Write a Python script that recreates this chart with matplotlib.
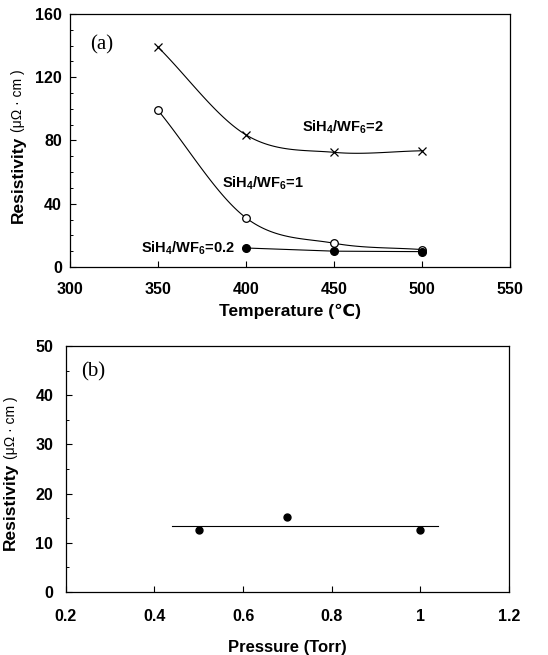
import numpy as np
import matplotlib.pyplot as plt
from matplotlib.ticker import MultipleLocator

plt.rcParams['font.family'] = ['Liberation Sans', 'DejaVu Sans']
plt.rcParams['mathtext.fontset'] = 'custom'
plt.rcParams['mathtext.rm'] = 'Liberation Sans:bold'
plt.rcParams['mathtext.default'] = 'rm'

# (a) resistivity vs deposition temperature
temp_x2 = [350, 400, 450, 500]
rho_x2 = [139, 83.5, 72.5, 73.5]          # SiH4/WF6 = 2
temp_x1 = [350, 400, 450, 500]
rho_x1 = [99, 31, 15, 11]                 # SiH4/WF6 = 1
temp_x02 = [400, 450, 500]
rho_x02 = [12, 10, 9.7]                   # SiH4/WF6 = 0.2

# (b) resistivity vs pressure
pressure = [0.5, 0.7, 1.0]
rho_p = [12.5, 15.3, 12.5]
fit_p = [0.44, 1.04]
fit_rho = [13.5, 13.5]
p_ticks = [0.2, 0.4, 0.6, 0.8, 1.0, 1.2]
p_ticklabels = ['0.2', '0.4', '0.6', '0.8', '1', '1.2']


def smooth(x, y, n=40):
    # Catmull-Rom curve through the points, like a spreadsheet "smoothed line"
    x = np.asarray(x, float)
    y = np.asarray(y, float)
    px = np.concatenate([[2 * x[0] - x[1]], x, [2 * x[-1] - x[-2]]])
    py = np.concatenate([[2 * y[0] - y[1]], y, [2 * y[-1] - y[-2]]])
    xs, ys = [], []
    t = np.linspace(0, 1, n)
    for i in range(1, len(px) - 2):
        for arr, out in ((px, xs), (py, ys)):
            p0, p1, p2, p3 = arr[i - 1:i + 3]
            out.extend(0.5 * ((2 * p1) + (-p0 + p2) * t
                              + (2 * p0 - 5 * p1 + 4 * p2 - p3) * t ** 2
                              + (-p0 + 3 * p1 - 3 * p2 + p3) * t ** 3))
    return xs, ys


def style_axes(ax, xpad, ypad):
    ax.tick_params(direction='in', length=4, width=0.8, labelsize=11.5)
    ax.tick_params(axis='x', pad=xpad)
    ax.tick_params(axis='y', pad=ypad)
    ax.tick_params(which='minor', direction='in', length=2.5, width=0.7)
    ax.tick_params(axis='x', which='minor', length=0)
    for lab in ax.get_xticklabels() + ax.get_yticklabels():
        lab.set_fontweight('bold')
    for sp in ax.spines.values():
        sp.set_linewidth(0.9)


def ylabel(ax, x, y):
    t = ax.text(x, y, 'Resistivity', transform=ax.transAxes, rotation=90,
                rotation_mode='anchor', ha='left', va='center',
                fontsize=12.5, fontweight='bold')
    ax.annotate('(μΩ · cm )', xy=(0.5, 1), xycoords=t, xytext=(0, 3),
                textcoords='offset points', rotation=90, rotation_mode='anchor',
                ha='left', va='center', fontsize=10)


fig = plt.figure(figsize=(5.48, 6.55), dpi=100)

ax1 = fig.add_axes([0.128, 0.5924, 0.803, 0.3862])
sx, sy = smooth(temp_x2, rho_x2)
ax1.plot(sx, sy, color='black', lw=0.8)
ax1.plot(temp_x2, rho_x2, 'x', color='black', ms=6, mew=0.9)
sx, sy = smooth(temp_x1, rho_x1)
ax1.plot(sx, sy, color='black', lw=0.8)
ax1.plot(temp_x1, rho_x1, 'o', mfc='white', mec='black', ms=5.5, mew=0.9)
ax1.plot(temp_x02, rho_x02, '-o', color='black', lw=0.8, ms=5.5)

ax1.set_xlim(300, 550)
ax1.set_ylim(0, 160)
ax1.xaxis.set_major_locator(MultipleLocator(50))
ax1.yaxis.set_major_locator(MultipleLocator(40))
ax1.yaxis.set_minor_locator(MultipleLocator(10))
style_axes(ax1, 11, 6)

lbl = dict(fontsize=10.5, fontweight='bold', va='center', ha='left')
ax1.text(432, 88.5, 'SiH$_4$/WF$_6$=2', **lbl)
ax1.text(386, 52.7, 'SiH$_4$/WF$_6$=1', **lbl)
ax1.text(340, 11.8, 'SiH$_4$/WF$_6$=0.2', **lbl)
ax1.text(311.5, 140.7, '(a)', family='Liberation Serif', fontsize=15,
         va='center', ha='left')
ax1.set_xlabel('Temperature (℃)', fontsize=12.5, fontweight='bold', labelpad=5)
ylabel(ax1, -0.118, 0.174)

ax2 = fig.add_axes([0.120, 0.0962, 0.809, 0.3756])
ax2.plot(fit_p, fit_rho, color='black', lw=0.8)
ax2.plot(pressure, rho_p, 'o', color='black', ms=5)

ax2.set_xticks(p_ticks, p_ticklabels)
ax2.set_xlim(0.2, 1.2)
ax2.set_ylim(0, 50)
ax2.yaxis.set_major_locator(MultipleLocator(10))
ax2.yaxis.set_minor_locator(MultipleLocator(5))
style_axes(ax2, 12, 9)
ax2.text(0.234, 44.8, '(b)', family='Liberation Serif', fontsize=15,
         va='center', ha='left')
ax2.set_xlabel('Pressure (Torr)', fontsize=12, fontweight='bold', labelpad=12)
ylabel(ax2, -0.124, 0.171)

fig.savefig('out.png', dpi=100)
